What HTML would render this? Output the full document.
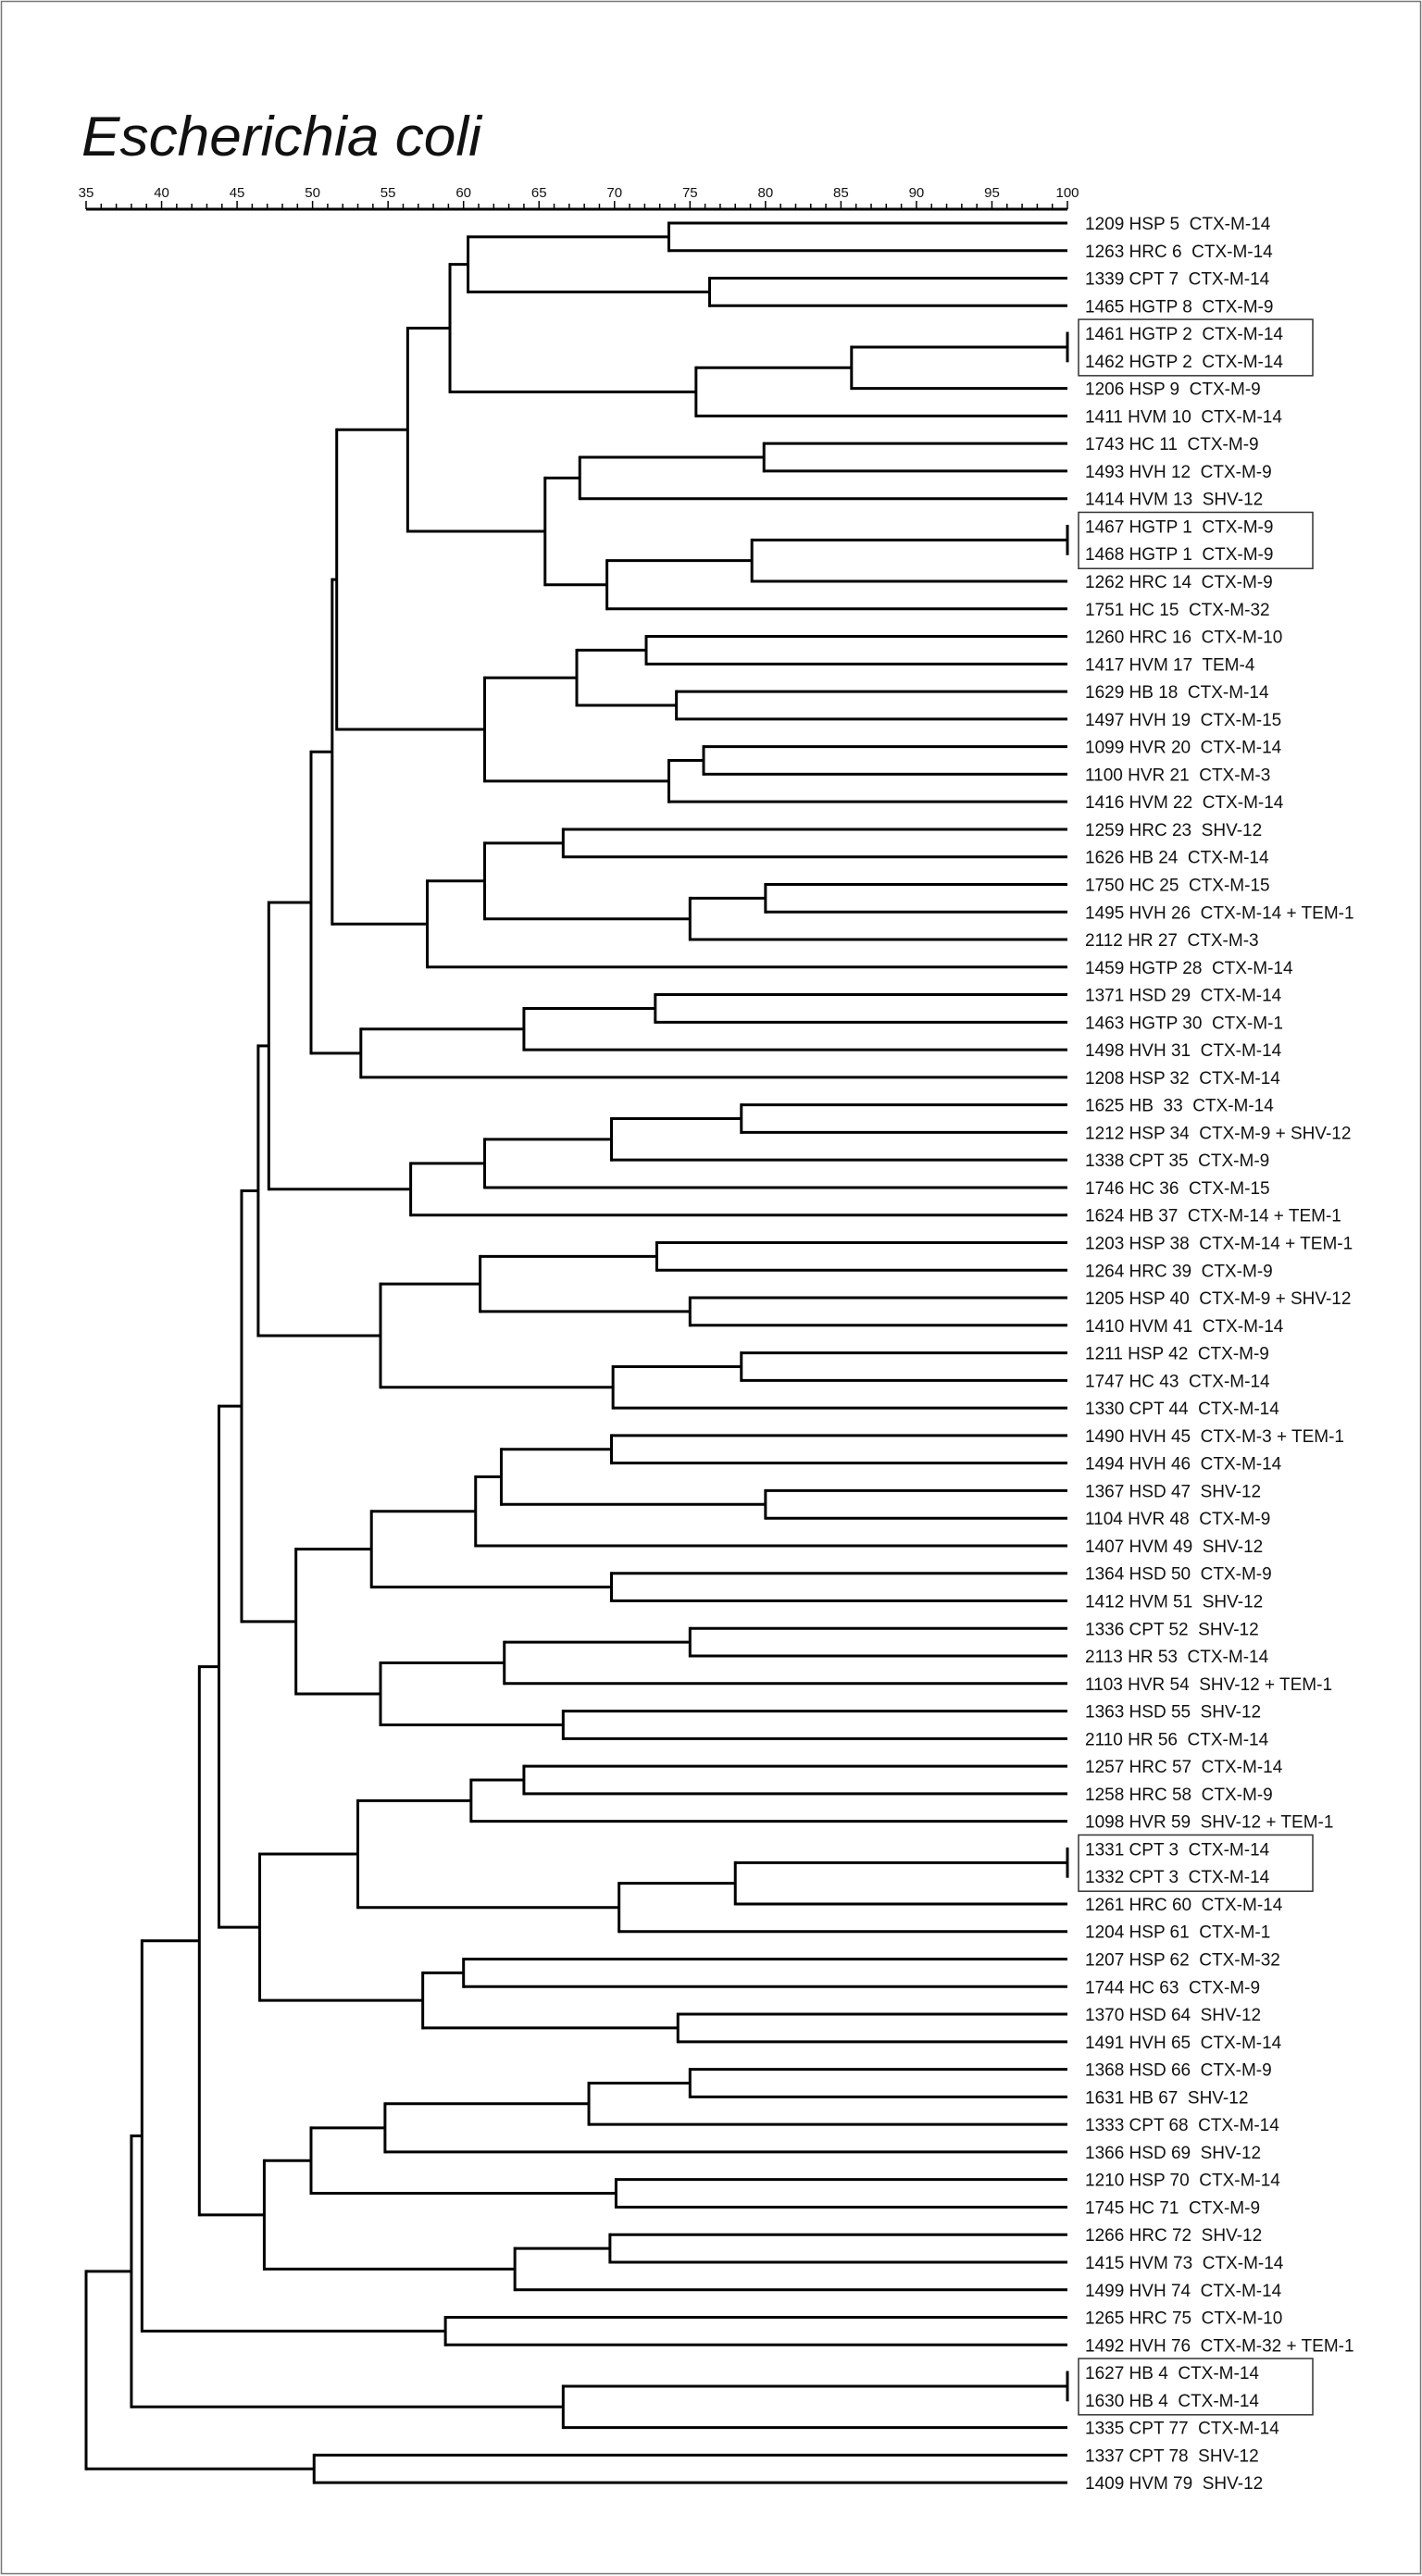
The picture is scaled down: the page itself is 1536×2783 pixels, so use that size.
<!DOCTYPE html>
<html><head><meta charset="utf-8"><style>
html,body{margin:0;padding:0;background:#fff;}
svg{display:block;}
text{font-family:"Liberation Sans",sans-serif;fill:#111;white-space:pre;}
</style></head><body>
<svg id="chart" width="1536" height="2783" viewBox="0 0 1536 2783" xmlns="http://www.w3.org/2000/svg">
<rect x="1.5" y="1.5" width="1533" height="2779" fill="#fff" stroke="#777" stroke-width="1.5"/>
<text x="88" y="168" font-size="60" font-style="italic" textLength="432" lengthAdjust="spacingAndGlyphs">Escherichia coli</text>
<g id="axis"></g>
<g id="tree"></g>
<g id="boxes"></g>
<g id="labels"></g>
</svg>
<script>
const leafLabels = [
"1209 HSP 5  CTX-M-14","1263 HRC 6  CTX-M-14","1339 CPT 7  CTX-M-14","1465 HGTP 8  CTX-M-9",
"1461 HGTP 2  CTX-M-14","1462 HGTP 2  CTX-M-14","1206 HSP 9  CTX-M-9","1411 HVM 10  CTX-M-14",
"1743 HC 11  CTX-M-9","1493 HVH 12  CTX-M-9","1414 HVM 13  SHV-12","1467 HGTP 1  CTX-M-9",
"1468 HGTP 1  CTX-M-9","1262 HRC 14  CTX-M-9","1751 HC 15  CTX-M-32","1260 HRC 16  CTX-M-10",
"1417 HVM 17  TEM-4","1629 HB 18  CTX-M-14","1497 HVH 19  CTX-M-15","1099 HVR 20  CTX-M-14",
"1100 HVR 21  CTX-M-3","1416 HVM 22  CTX-M-14","1259 HRC 23  SHV-12","1626 HB 24  CTX-M-14",
"1750 HC 25  CTX-M-15","1495 HVH 26  CTX-M-14 + TEM-1","2112 HR 27  CTX-M-3","1459 HGTP 28  CTX-M-14",
"1371 HSD 29  CTX-M-14","1463 HGTP 30  CTX-M-1","1498 HVH 31  CTX-M-14","1208 HSP 32  CTX-M-14",
"1625 HB  33  CTX-M-14","1212 HSP 34  CTX-M-9 + SHV-12","1338 CPT 35  CTX-M-9","1746 HC 36  CTX-M-15",
"1624 HB 37  CTX-M-14 + TEM-1","1203 HSP 38  CTX-M-14 + TEM-1","1264 HRC 39  CTX-M-9","1205 HSP 40  CTX-M-9 + SHV-12",
"1410 HVM 41  CTX-M-14","1211 HSP 42  CTX-M-9","1747 HC 43  CTX-M-14","1330 CPT 44  CTX-M-14",
"1490 HVH 45  CTX-M-3 + TEM-1","1494 HVH 46  CTX-M-14","1367 HSD 47  SHV-12","1104 HVR 48  CTX-M-9",
"1407 HVM 49  SHV-12","1364 HSD 50  CTX-M-9","1412 HVM 51  SHV-12","1336 CPT 52  SHV-12",
"2113 HR 53  CTX-M-14","1103 HVR 54  SHV-12 + TEM-1","1363 HSD 55  SHV-12","2110 HR 56  CTX-M-14",
"1257 HRC 57  CTX-M-14","1258 HRC 58  CTX-M-9","1098 HVR 59  SHV-12 + TEM-1","1331 CPT 3  CTX-M-14",
"1332 CPT 3  CTX-M-14","1261 HRC 60  CTX-M-14","1204 HSP 61  CTX-M-1","1207 HSP 62  CTX-M-32",
"1744 HC 63  CTX-M-9","1370 HSD 64  SHV-12","1491 HVH 65  CTX-M-14","1368 HSD 66  CTX-M-9",
"1631 HB 67  SHV-12","1333 CPT 68  CTX-M-14","1366 HSD 69  SHV-12","1210 HSP 70  CTX-M-14",
"1745 HC 71  CTX-M-9","1266 HRC 72  SHV-12","1415 HVM 73  CTX-M-14","1499 HVH 74  CTX-M-14",
"1265 HRC 75  CTX-M-10","1492 HVH 76  CTX-M-32 + TEM-1","1627 HB 4  CTX-M-14","1630 HB 4  CTX-M-14",
"1335 CPT 77  CTX-M-14","1337 CPT 78  SHV-12","1409 HVM 79  SHV-12"];
// merges: [childA, childB, similarity]; leaves 0..82, internal nodes 83+
const mergeA = [0,2,83,4,86,87,85,8,90,11,92,93,91,89,15,17,97,19,100,99,96,22,24,105,104,107,103,28,110,111,109,32,114,115,116,113,37,39,119,41,122,121,118,44,46,126,128,49,129,51,132,54,133,131,125,56,138,59,140,141,139,63,65,144,143,137,67,149,150,71,151,73,154,153,148,76,157,78,160,159,81,162];
const mergeB = [1,3,84,5,6,7,88,9,10,12,13,14,94,95,16,18,98,20,21,101,102,23,25,26,106,27,108,29,30,31,112,33,34,35,36,117,38,40,120,42,43,123,124,45,47,127,48,50,130,52,53,55,134,135,136,57,58,60,61,62,142,64,66,145,146,147,68,69,70,72,152,74,75,155,156,77,158,79,80,161,82,163];
const mergeSim = [73.6,76.3,60.3,100,85.7,75.4,59.1,79.9,67.7,100,79.1,69.5,65.4,56.3,72.1,74.1,67.5,75.9,73.6,61.4,51.6,66.6,80,75,61.4,57.6,51.3,72.7,64,53.2,49.9,78.4,69.8,61.4,56.5,47.1,72.8,75,61.1,78.4,69.9,54.5,46.4,69.8,80,62.5,60.8,69.8,53.9,75,62.7,66.6,54.5,48.9,45.3,64,60.5,100,78,70.3,53,60,74.2,57.3,46.5,43.8,75,68.3,54.8,70.1,49.9,69.7,63.4,46.8,42.5,58.8,38.7,100,66.6,38,50.1,35];
const tickValues = [35,40,45,50,55,60,65,70,75,80,85,90,95,100];
const boxedPairs = [4,11,59,78];

const NS = "http://www.w3.org/2000/svg";
const X0 = 93, X1 = 1153, Y0 = 241, DY = 29.77;
function xScale(v){ return X0 + (v - 35) / 65 * (X1 - X0); }
function yLeaf(i){ return Y0 + i * DY; }
function mk(tag, attrs, parent){ const e = document.createElementNS(NS, tag); for (const k in attrs) e.setAttribute(k, attrs[k]); parent.appendChild(e); return e; }

// axis
const axis = document.getElementById('axis');
const AY = 226;
let ln = mk('line', {x1:X0, x2:X1, y1:AY, y2:AY, stroke:'#000','stroke-width':3}, axis);


for (let v = 35; v <= 100; v++) {
  const x = xScale(v);
  const t = mk('line', {x1:x, x2:x, y1:AY, y2:AY - (v % 5 === 0 ? 9 : 6), stroke:'#000','stroke-width':1.5}, axis);
  
  
}
tickValues.forEach(v => {
  const t = mk('text', {x:xScale(v), y:AY - 13, 'font-size':15, 'text-anchor':'middle'}, axis);
  t.textContent = v;
  
  
});

// tree
const tree = document.getElementById('tree');
const nodeY = [], nodeV = [];
leafLabels.forEach((_, i) => { nodeY[i] = yLeaf(i); nodeV[i] = 100; });
const NL = leafLabels.length;
for (let k = 0; k < mergeSim.length; k++) {
  const a = mergeA[k], b = mergeB[k], v = mergeSim[k];
  const id = NL + k;
  nodeY[id] = (nodeY[a] + nodeY[b]) / 2;
  nodeV[id] = v;
  const x = xScale(v);
  const vl = mk('line', {x1:x, x2:x, y1:nodeY[a], y2:nodeY[b], stroke:'#000','stroke-width':3,'stroke-linecap':'square'}, tree);
  
  
  [a, b].forEach(c => {
    const cx = xScale(nodeV[c]);
    if (Math.abs(cx - x) > 0.5) {
      const hl = mk('line', {x1:x, x2:cx, y1:nodeY[c], y2:nodeY[c], stroke:'#000','stroke-width':3}, tree);
      
      
    }
  });
}
const rootX = xScale(nodeV[nodeV.length - 1]);

// boxes
const boxes = document.getElementById('boxes');
boxedPairs.forEach(i => {
  const r = mk('rect', {x:1165, y:yLeaf(i) - 15, width:253, height:DY + 31, fill:'none', stroke:'#333','stroke-width':1.5}, boxes);
  
  
});

// labels
const labels = document.getElementById('labels');
leafLabels.forEach((s, i) => {
  const t = mk('text', {x:1172, y:yLeaf(i) + 7, 'font-size':19}, labels);
  t.textContent = s;
  
  
});
</script>
</body></html>
